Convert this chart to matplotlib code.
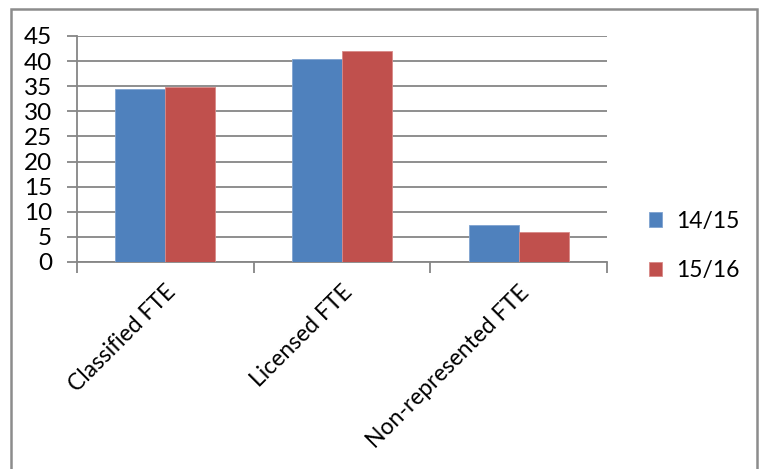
import matplotlib.pyplot as plt
from matplotlib.patches import Rectangle
import numpy as np

categories = ["Classified FTE", "Licensed FTE", "Non-represented FTE"]
series_names = ["14/15", "15/16"]
vals_1415 = [34.4, 40.5, 7.4]
vals_1516 = [34.8, 42.1, 5.9]
y_ticks = [0, 5, 10, 15, 20, 25, 30, 35, 40, 45]

plt.rcParams['font.family'] = ['Lato', 'DejaVu Sans']

W, H = 760, 469
fig = plt.figure(figsize=(W / 100, H / 100), dpi=100)
ax = fig.add_axes([77 / W, 1 - 262 / H, (607 - 77) / W, (262 - 36) / H])

x = np.arange(len(categories))
bw = 0.283
grey = "#868686"
ax.bar(x - bw / 2, vals_1415, bw, color="#4F81BD", edgecolor="#7FA3D0", linewidth=0.6,
       label=series_names[0], zorder=3)
ax.bar(x + bw / 2, vals_1516, bw, color="#C0504D", edgecolor="#D88A88", linewidth=0.6,
       label=series_names[1], zorder=3)

ax.set_xlim(-0.5, len(categories) - 0.5)
ax.set_ylim(0, 45)
ax.set_yticks(y_ticks)
ax.yaxis.grid(True, color=grey, linewidth=1.3, zorder=0)
ax.tick_params(axis="y", length=7, width=1.3, color=grey, labelsize=17.5, pad=11)

# category labels at centres, tick marks at the boundaries
ax.set_xticks(x)
ax.set_xticklabels(categories, rotation=45, ha="right", rotation_mode="anchor", fontsize=16.5)
ax.tick_params(axis="x", which="major", length=0, pad=14)
ax.set_xticks(np.arange(-0.5, len(categories), 1), minor=True)
ax.tick_params(axis="x", which="minor", length=8, width=1.3, color=grey)

for s in ["top", "right"]:
    ax.spines[s].set_visible(False)
for s in ["left", "bottom"]:
    ax.spines[s].set_color(grey)
    ax.spines[s].set_linewidth(1.3)

fig.legend(loc="upper left", bbox_to_anchor=(628 / W, 1 - 190 / H), frameon=False,
           fontsize=16.5, handlelength=0.6, handleheight=0.6, handletextpad=0.6,
           labelspacing=1.25)

# outer chart frame
fig.patches.append(Rectangle((11 / W, -0.1), (757 - 11) / W, 1.1 - 9 / H,
                             transform=fig.transFigure, fill=False,
                             edgecolor="#8c8c8c", linewidth=1.8))

fig.savefig("out.png", dpi=100)
